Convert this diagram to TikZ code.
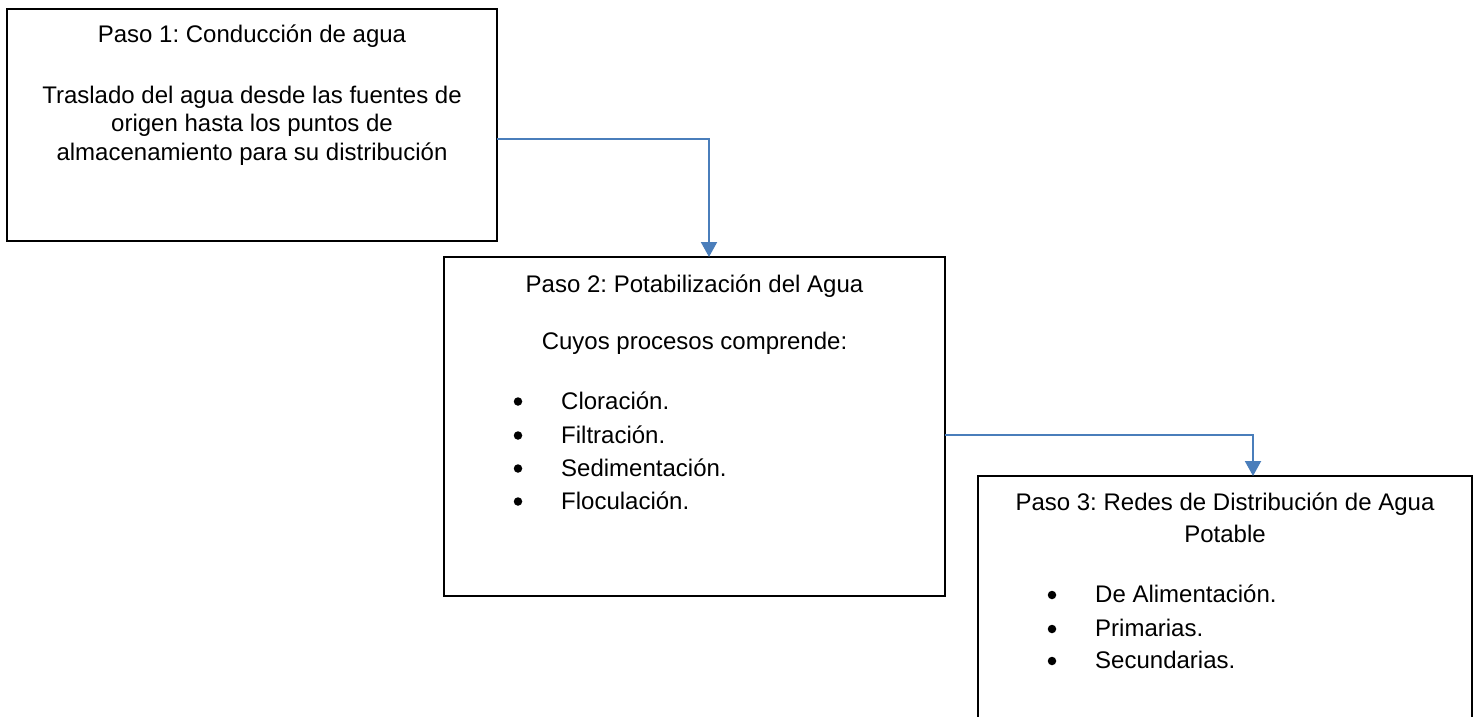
\documentclass[tikz,border=0pt]{standalone}
\usepackage{fontspec}
\setmainfont{Liberation Sans}
\usetikzlibrary{calc,arrows.meta}
\definecolor{connblue}{RGB}{74,126,187}
\frenchspacing
\begin{document}
\begin{tikzpicture}[x=1pt,y=-1pt,
  stepbox/.style={draw=black,line width=1.6pt,inner sep=0,outer sep=0},
  txt/.style={inner sep=0,anchor=base,font=\fontsize{24}{28}\selectfont},
  ltxt/.style={txt,anchor=base west},
  bdot/.style={circle,fill=black,inner sep=0,minimum size=8.5pt},
  conn/.style={draw=connblue,line width=2pt,-{Triangle[length=15pt,width=16pt]}}]
\useasboundingbox (0,0) rectangle (1478,717);
\clip (0,0) rectangle (1478,717);
% boxes
\node[stepbox,minimum width=490pt,minimum height=232pt] (box1) at (252,125) {};
\node[stepbox,minimum width=501pt,minimum height=339pt] (box2) at (694.5,426.5) {};
\node[stepbox,minimum width=494pt,minimum height=284pt] (box3) at (1225,618) {};
% box 1 text
\node[txt] (t1) at (252,43) {Paso 1: Conducción de agua};
\node[txt] (t1a) at (252,103) {Traslado del agua desde las fuentes de};
\node[txt] (t1b) at (252,131.5) {origen hasta los puntos de};
\node[txt] (t1c) at (252,160) {almacenamiento para su distribución};
% box 2 text
\node[txt] (t2) at (694.5,292) {Paso 2: Potabilización del Agua};
\node[txt] (t2a) at (694.5,349) {Cuyos procesos comprende:};
\node[bdot] (b2a) at (518,401.5) {};
\node[ltxt] (l2a) at (561,409) {Cloración.};
\node[bdot] (b2b) at (518,435.5) {};
\node[ltxt] (l2b) at (561,443) {Filtración.};
\node[bdot] (b2c) at (518,468.5) {};
\node[ltxt] (l2c) at (561,476) {Sedimentación.};
\node[bdot] (b2d) at (518,501.5) {};
\node[ltxt] (l2d) at (561,509) {Floculación.};
% box 3 text
\node[txt] (t3) at (1225,510) {Paso 3: Redes de Distribución de Agua};
\node[txt] (t3a) at (1225,542) {Potable};
\node[bdot] (b3a) at (1052,595) {};
\node[ltxt] (l3a) at (1095,602) {De Alimentación.};
\node[bdot] (b3b) at (1052,629) {};
\node[ltxt] (l3b) at (1095,636) {Primarias.};
\node[bdot] (b3c) at (1052,661) {};
\node[ltxt] (l3c) at (1095,668) {Secundarias.};
% connectors
\draw[conn] ($(box1.east)+(0,14)$) -| ($(box2.north)+(14.5,0)$);
\draw[conn] ($(box2.east)+(0,8.5)$) -| ($(box3.north)+(28,0)$);
\end{tikzpicture}
\end{document}
